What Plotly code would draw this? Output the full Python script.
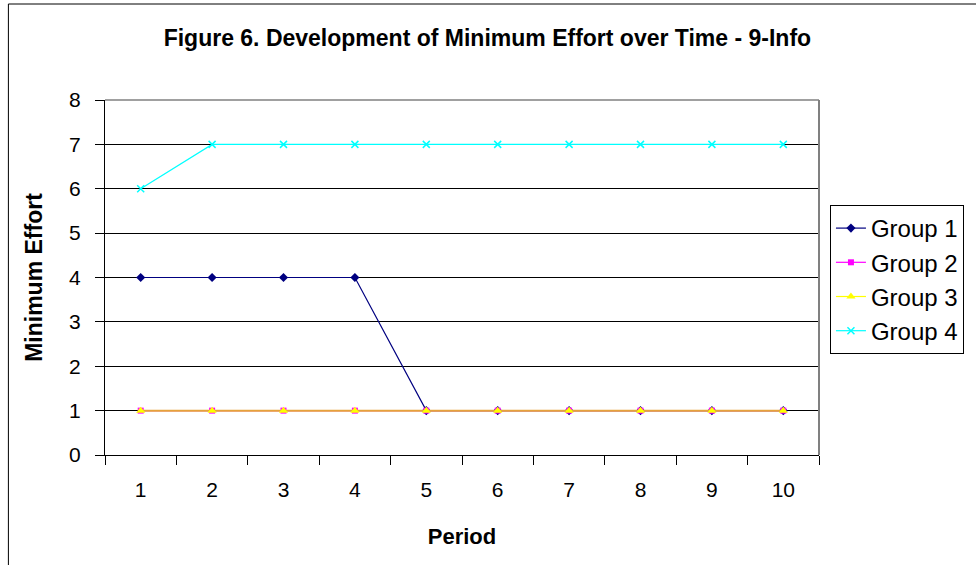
import plotly.graph_objects as go

periods = ["1", "2", "3", "4", "5", "6", "7", "8", "9", "10"]
group1 = [4, 4, 4, 4, 1, 1, 1, 1, 1, 1]
group2 = [1, 1, 1, 1, 1, 1, 1, 1, 1, 1]
group3 = [1, 1, 1, 1, 1, 1, 1, 1, 1, 1]
group4 = [6, 7, 7, 7, 7, 7, 7, 7, 7, 7]

font = "Liberation Sans, Arial, sans-serif"

fig = go.Figure()

fig.add_trace(go.Scatter(
    x=periods, y=group1, name="Group 1", mode="lines+markers",
    line=dict(color="#000080", width=1.2),
    marker=dict(symbol="diamond", size=7, color="#000080"),
))
fig.add_trace(go.Scatter(
    x=periods, y=group2, name="Group 2", mode="lines+markers",
    line=dict(color="#FF00FF", width=1.2),
    marker=dict(symbol="square", size=6, color="#FF00FF"),
))
# legend-only entry for Group 3 (yellow swatch)
fig.add_trace(go.Scatter(
    x=[None], y=[None], name="Group 3", mode="lines+markers",
    line=dict(color="#FFFF00", width=1.2),
    marker=dict(symbol="triangle-up", size=8, color="#FFFF00"),
))
fig.add_trace(go.Scatter(
    x=periods, y=group4, name="Group 4", mode="lines+markers",
    line=dict(color="#00FFFF", width=1.2),
    marker=dict(symbol="x-thin", size=7, line=dict(color="#00FFFF", width=1.5)),
))
# Group 3 lies on top of Group 2; the overlapping line renders orange
fig.add_trace(go.Scatter(
    x=periods, y=group3, name="Group 3", mode="lines+markers",
    line=dict(color="#E6A23C", width=2),
    marker=dict(symbol="triangle-up", size=8, color="#FFFF00"),
    showlegend=False,
))

fig.update_layout(
    width=976, height=565,
    margin=dict(l=105, r=154, t=100, b=110),
    paper_bgcolor="white", plot_bgcolor="white",
    font=dict(family=font, color="black"),
    title=dict(
        text="<b>Figure 6. Development of Minimum Effort over Time - 9-Info</b>",
        font=dict(size=23, family=font), x=(489 - 105) / 717, xanchor="center",
        xref="paper", y=1 - 38 / 565, yanchor="middle",
    ),
    legend=dict(
        x=(833 - 105) / 717, y=(455 - 205) / 355, xanchor="left", yanchor="top",
        bordercolor="black", borderwidth=1, bgcolor="white",
        font=dict(size=24, family=font), tracegroupgap=0,
        itemwidth=30,
    ),
    xaxis=dict(
        type="category", range=[-0.5, 9.5],
        showline=True, linecolor="black", linewidth=1,
        ticks="outside", tickson="boundaries", ticklen=9, tickcolor="black",
        showgrid=False, tickfont=dict(size=21), zeroline=False,
        ticklabelstandoff=16,
        title=dict(text="<b>Period</b>", font=dict(size=22), standoff=28),
    ),
    yaxis=dict(
        range=[0, 8], dtick=1, tick0=0,
        showline=True, linecolor="black", linewidth=1,
        ticks="outside", ticklen=9, tickcolor="black",
        showgrid=True, gridcolor="black", gridwidth=1,
        tickfont=dict(size=21), zeroline=False,
        ticklabelstandoff=10,
        title=dict(text="<b>Minimum Effort</b>", font=dict(size=23), standoff=20),
    ),
    shapes=[
        # plot area right/top edge
        dict(type="line", xref="paper", yref="paper", x0=1, x1=1, y0=0, y1=1,
             line=dict(color="#808080", width=2)),
        dict(type="line", xref="paper", yref="paper", x0=0, x1=1, y0=1, y1=1,
             line=dict(color="#808080", width=1.5)),
        # chart border
        dict(type="rect", xref="paper", yref="paper",
             x0=(8 - 105) / 717, x1=(1000 - 105) / 717,
             y0=(455 - 600) / 355, y1=(455 - 4) / 355,
             line=dict(color="black", width=1), layer="below"),
    ],
)

fig.write_html("out.html")
